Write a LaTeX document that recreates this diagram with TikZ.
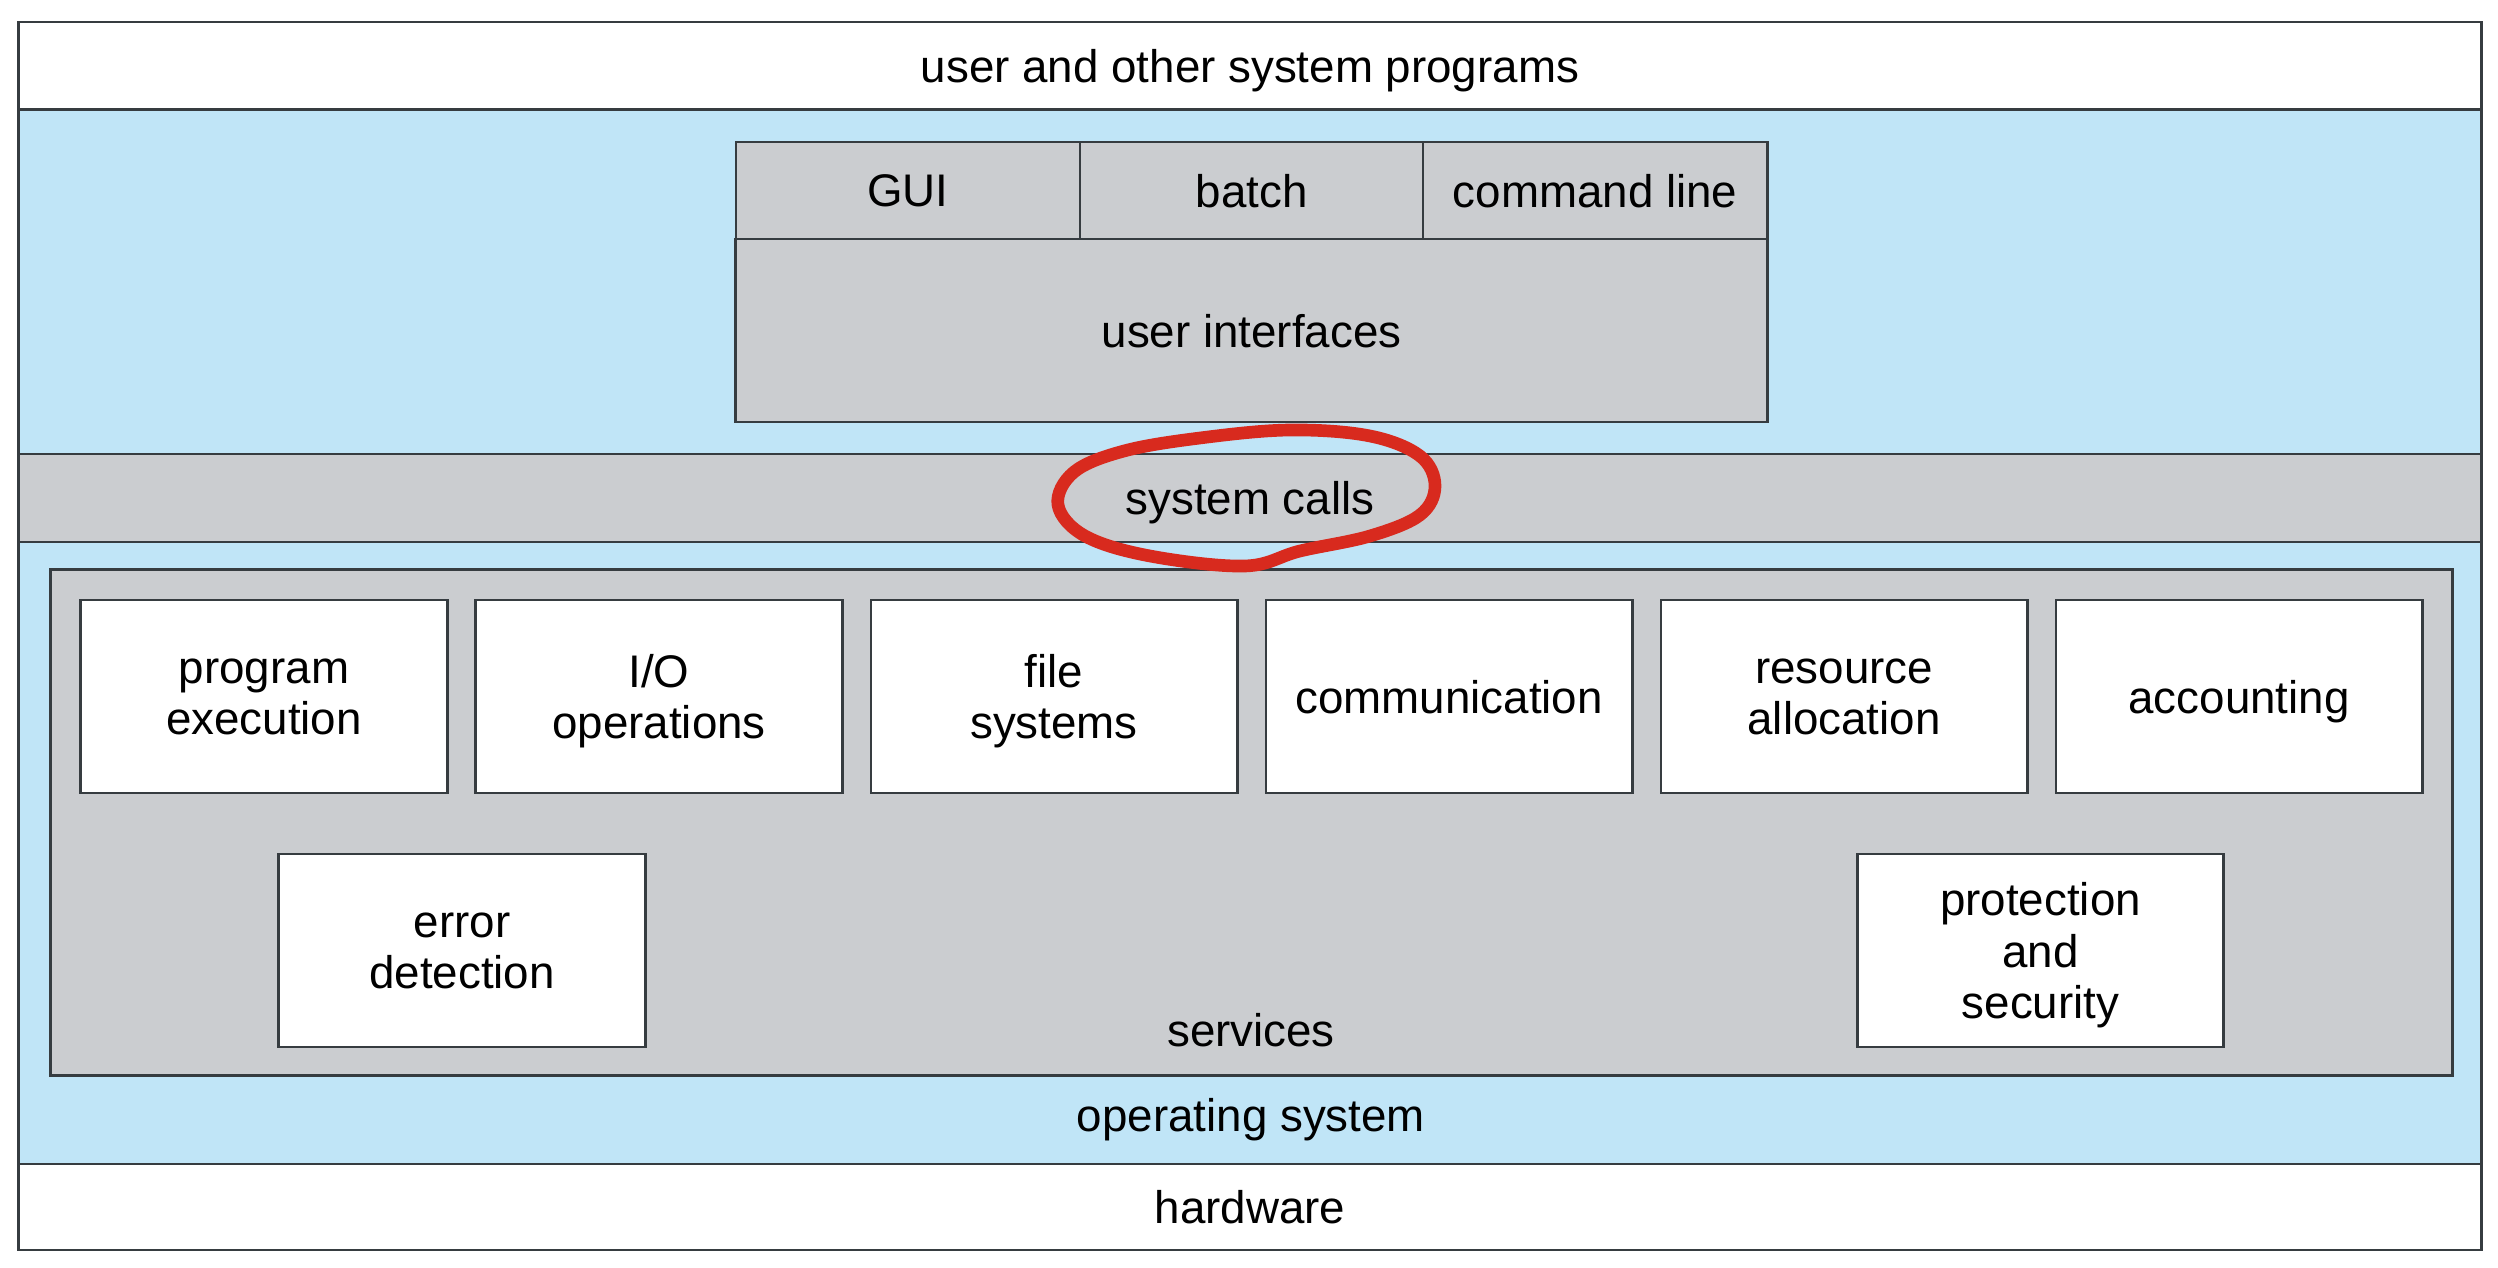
\documentclass[tikz,border=0pt]{standalone}
\usepackage{fontspec}
\setmainfont{Liberation Sans}
\definecolor{osblue}{HTML}{C0E5F7}
\definecolor{svcgray}{HTML}{CBCDD0}
\definecolor{linec}{HTML}{363C40}
\definecolor{penred}{HTML}{D82A1E}
\tikzset{
  frame/.style={draw=linec, line width=0.8pt, inner sep=0pt, align=center, text depth=0pt,
    font=\fontsize{13}{14.6}\selectfont, execute at begin node={\vphantom{I}}},
  whitebox/.style={frame, fill=white},
  graybox/.style={frame, fill=svcgray},
  bluebox/.style={frame, fill=osblue},
  svcbox/.style={whitebox, minimum width=3.66cm, minimum height=1.93cm},
  plainlabel/.style={inner sep=0pt, align=center, text depth=0pt, font=\fontsize{13}{14.6}\selectfont},
  redloop/.style={draw=penred, line width=3.6pt, line cap=round, line join=round}
}
\begin{document}
\begin{tikzpicture}[x=0.01cm,y=-0.01cm]
\useasboundingbox (0,0) rectangle (2498,1268);
% bands
\node[whitebox, minimum width=24.62cm, minimum height=0.88cm] (userprog) at (1250,66) {user and other system programs};
\node[bluebox, minimum width=24.62cm, minimum height=10.54cm] (os) at (1250,637) {};
\node[whitebox, minimum width=24.62cm, minimum height=0.86cm] (hw) at (1250,1207) {hardware};
% user interfaces
\node[graybox, minimum width=3.44cm, minimum height=0.97cm] (gui) at (908,190.5) {GUI};
\node[graybox, minimum width=3.43cm, minimum height=0.97cm] (batch) at (1251.5,190.5) {batch};
\node[graybox, minimum width=3.44cm, minimum height=0.97cm] (cmd) at (1595,190.5) {command line};
\node[graybox, minimum width=10.31cm, minimum height=1.83cm] (ui) at (1251.5,330.5) {user interfaces};
% system calls
\node[graybox, minimum width=24.62cm, minimum height=0.88cm] (sys) at (1250,498) {system calls};
% services
\node[graybox, minimum width=24.01cm, minimum height=5.05cm] (svc) at (1251.5,822.5) {};
\node[plainlabel] (svclabel) at (1251,1030) {services};
\node[plainlabel] (oslabel) at (1251,1115) {operating system};
\node[svcbox] (pe) at (264,696.5) {program\\execution};
\node[svcbox] (io) at (659,696.5) {I/O\\operations};
\node[svcbox] (fs) at (1054,696.5) {file\\systems};
\node[svcbox] (comm) at (1449,696.5) {communication};
\node[svcbox] (ra) at (1844,696.5) {resource\\allocation};
\node[svcbox] (acc) at (2239,696.5) {accounting};
\node[svcbox] (err) at (462,950.5) {error\\detection};
\node[svcbox] (prot) at (2040.5,950.5) {protection\\and\\security};
% red hand-drawn loop
\draw[redloop] plot[smooth cycle, tension=0.6] coordinates {
  (1245,566) (1150,556) (1085,536) (1058,505) (1074,472) (1124,451)
  (1200,438) (1290,430) (1370,436) (1420,456) (1435,486) (1420,515)
  (1370,536) (1300,551)};
\end{tikzpicture}
\end{document}
